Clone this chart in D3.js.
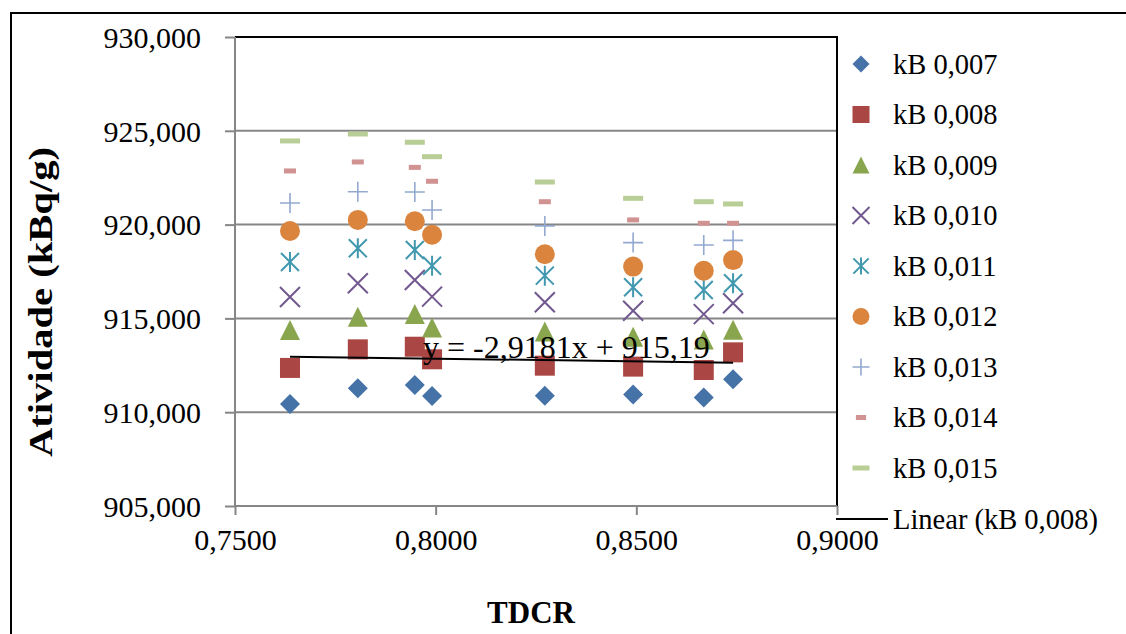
<!DOCTYPE html>
<html>
<head>
<meta charset="utf-8">
<script src="https://cdn.jsdelivr.net/npm/d3@7"></script>
<style>
  html, body { margin: 0; padding: 0; background: #fff; }
  svg { display: block; font-family: "Liberation Serif", "Times New Roman", serif; }
</style>
</head>
<body>
<svg id="chart" width="1126" height="634"></svg>
<script>
// TDCR values of the eight measurements
const tdcr = [0.7637, 0.7806, 0.7948, 0.7991, 0.8272, 0.8492, 0.8668, 0.8741];

// Activity (kBq/g) for each kB parameter
const kB007 = [910.44, 911.27, 911.45, 910.86, 910.88, 910.95, 910.79, 911.75];
const kB008 = [912.36, 913.35, 913.49, 912.82, 912.48, 912.43, 912.25, 913.19];
const kB009 = [914.38, 915.09, 915.23, 914.52, 914.30, 914.02, 913.88, 914.40];
const kB010 = [916.14, 916.87, 917.05, 916.16, 915.86, 915.41, 915.23, 915.81];
const kB011 = [918.01, 918.74, 918.65, 917.81, 917.28, 916.66, 916.51, 916.87];
const kB012 = [919.66, 920.25, 920.18, 919.46, 918.42, 917.76, 917.54, 918.11];
const kB013 = [921.15, 921.75, 921.74, 920.78, 919.93, 919.04, 918.91, 919.16];
const kB014 = [922.86, 923.34, 923.05, 922.31, 921.22, 920.25, 920.07, 920.07];
const kB015 = [924.46, 924.83, 924.39, 923.62, 922.27, 921.40, 921.22, 921.10];

const seriesNames = ["kB 0,007", "kB 0,008", "kB 0,009", "kB 0,010", "kB 0,011",
                     "kB 0,012", "kB 0,013", "kB 0,014", "kB 0,015"];
const seriesValues = [kB007, kB008, kB009, kB010, kB011, kB012, kB013, kB014, kB015];
const seriesColors = ["#4572A7", "#AA4643", "#89A54E", "#71588F", "#4198AF",
                      "#DB843D", "#93A9CF", "#D19392", "#B9CD96"];
const seriesShapes = ["diamond", "square", "triangle", "cross", "asterisk",
                      "circle", "plus", "shortDash", "longDash"];

// Linear trend of kB 0,008
const trendSlope = -2.9181;
const trendIntercept = 915.19;
const trendLabel = "y = -2,9181x + 915,19";
const trendLegend = "Linear (kB 0,008)";

const yTicks = [905, 910, 915, 920, 925, 930];
const xTicks = [0.75, 0.80, 0.85, 0.90];
const xTitle = "TDCR";
const yTitle = "Atividade (kBq/g)";

const svg = d3.select("#chart");
const plot = { left: 235, right: 837, top: 37, bottom: 506 };

const x = d3.scaleLinear().domain([0.75, 0.90]).range([plot.left, plot.right]);
const y = d3.scaleLinear().domain([905, 930]).range([plot.bottom, plot.top]);

const fmtY = v => v.toFixed(3).replace(".", ",");
const fmtX = v => v.toFixed(4).replace(".", ",");

// outer chart frame (only top and left edges fall inside the view)
svg.append("rect")
  .attr("x", 11).attr("y", 13)
  .attr("width", 1200).attr("height", 700)
  .attr("fill", "none").attr("stroke", "#000").attr("stroke-width", 2);

// horizontal gridlines
svg.append("g").selectAll("line").data(yTicks).join("line")
  .attr("x1", plot.left).attr("x2", plot.right)
  .attr("y1", d => y(d)).attr("y2", d => y(d))
  .attr("stroke", "#868686").attr("stroke-width", 2);

// plot area border: top and right edges in black
svg.append("path")
  .attr("d", `M${plot.left},${plot.top}H${plot.right}V${plot.bottom}`)
  .attr("fill", "none").attr("stroke", "#000").attr("stroke-width", 2);

// axes
const yAxis = d3.axisLeft(y).tickValues(yTicks).tickFormat(fmtY).tickSize(10).tickPadding(24);
const xAxis = d3.axisBottom(x).tickValues(xTicks).tickFormat(fmtX).tickSize(9).tickPadding(14);

const gy = svg.append("g").attr("transform", `translate(${plot.left},0)`).call(yAxis);
const gx = svg.append("g").attr("transform", `translate(0,${plot.bottom})`).call(xAxis);
[gy, gx].forEach(g => {
  g.selectAll("path, line").attr("stroke", "#868686").attr("stroke-width", 2);
  g.selectAll("text").attr("fill", "#000")
    .style("font-family", '"Liberation Serif", "Times New Roman", serif')
    .style("font-size", "30px");
});
gy.select(".domain").attr("d", `M0,${plot.top}V${plot.bottom}`);
gx.select(".domain").attr("d", `M${plot.left},0H${plot.right}`);
gy.selectAll("text").attr("dy", "0.34em");

// marker drawing
function drawMarker(sel, shape, color, s) {
  const h = s / 2;
  switch (shape) {
    case "diamond":
      sel.append("path").attr("d", `M0,${-h}L${h},0L0,${h}L${-h},0Z`).attr("fill", color);
      break;
    case "square":
      sel.append("rect").attr("x", -h).attr("y", -h).attr("width", s).attr("height", s).attr("fill", color);
      break;
    case "triangle":
      sel.append("path").attr("d", `M0,${-h}L${h},${h}L${-h},${h}Z`).attr("fill", color);
      break;
    case "circle":
      sel.append("circle").attr("r", h).attr("fill", color);
      break;
    case "cross":
      sel.append("path").attr("d", `M${-h},${-h}L${h},${h}M${-h},${h}L${h},${-h}`)
        .attr("stroke", color).attr("stroke-width", 2).attr("fill", "none");
      break;
    case "asterisk":
      sel.append("path").attr("d", `M${-h*0.9},${-h*0.9}L${h*0.9},${h*0.9}M${-h*0.9},${h*0.9}L${h*0.9},${-h*0.9}M0,${-h}L0,${h}`)
        .attr("stroke", color).attr("stroke-width", 2).attr("fill", "none");
      break;
    case "plus":
      sel.append("path").attr("d", `M${-h},0L${h},0M0,${-h}L0,${h}`)
        .attr("stroke", color).attr("stroke-width", 1.6).attr("fill", "none");
      break;
    case "shortDash":
      sel.append("rect").attr("x", -s * 0.3).attr("y", -2.5).attr("width", s * 0.6).attr("height", 5).attr("fill", color);
      break;
    case "longDash":
      sel.append("rect").attr("x", -h).attr("y", -2.5).attr("width", s).attr("height", 5).attr("fill", color);
      break;
  }
}

// data points, series by series
seriesValues.forEach((vals, i) => {
  const g = svg.append("g").attr("class", "series");
  vals.forEach((v, j) => {
    const m = g.append("g").attr("transform", `translate(${x(tdcr[j])},${y(v)})`);
    drawMarker(m, seriesShapes[i], seriesColors[i], 20);
  });
});

// linear trendline for kB 0,008
const xMin = d3.min(tdcr), xMax = d3.max(tdcr);
svg.append("line")
  .attr("x1", x(xMin)).attr("y1", y(trendSlope * xMin + trendIntercept))
  .attr("x2", x(xMax)).attr("y2", y(trendSlope * xMax + trendIntercept))
  .attr("stroke", "#000").attr("stroke-width", 2);

svg.append("text")
  .attr("x", 423).attr("y", 358)
  .style("font-size", "32px")
  .text(trendLabel);

// axis titles
svg.append("text")
  .attr("x", 531).attr("y", 623)
  .attr("text-anchor", "middle")
  .style("font-size", "31px").style("font-weight", "bold")
  .text(xTitle);

svg.append("text")
  .attr("transform", "translate(52,302) rotate(-90)")
  .attr("text-anchor", "middle")
  .attr("textLength", 310).attr("lengthAdjust", "spacingAndGlyphs")
  .style("font-size", "33px").style("font-weight", "bold")
  .text(yTitle);

// legend
const legend = svg.append("g");
seriesNames.forEach((name, i) => {
  const ly = 64 + i * 50.5;
  const m = legend.append("g").attr("transform", `translate(861,${ly})`);
  drawMarker(m, seriesShapes[i], seriesColors[i], 17);
  legend.append("text").attr("x", 893).attr("y", ly).attr("dy", "0.34em")
    .style("font-size", "28.5px").text(name);
});
const linY = 64 + 9 * 50.5 + 0.5;
legend.append("line").attr("x1", 836).attr("x2", 888).attr("y1", linY).attr("y2", linY)
  .attr("stroke", "#000").attr("stroke-width", 2);
legend.append("text").attr("x", 893).attr("y", linY).attr("dy", "0.34em")
  .style("font-size", "28.5px").text(trendLegend);
</script>
</body>
</html>
